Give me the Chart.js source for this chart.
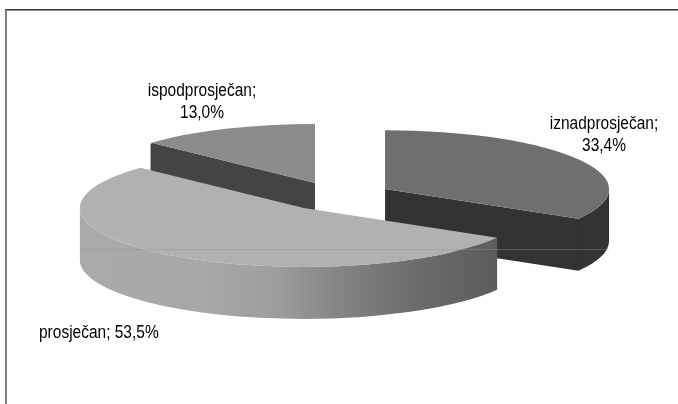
<!DOCTYPE html>
<html>
<head>
<meta charset="utf-8">
<style>
  html, body { margin: 0; padding: 0; background: #fff; overflow: hidden; }
  #wrap { position: relative; width: 678px; height: 404px; }
  #frame { position: absolute; left: 5px; top: 9px; right: 0; bottom: 0; border-left: 2px solid #808080; border-top: 1px solid #333; box-shadow: inset 0 1px 0 #999; }
  #chart { position: absolute; left: 0; top: 0; }
</style>
<script src="https://cdn.jsdelivr.net/npm/chart.js@4/dist/chart.umd.min.js"></script>
</head>
<body>
<div id="wrap">
  <div id="frame"></div>
  <canvas id="chart" width="678" height="404"></canvas>
</div>
<script>
const categories = ['iznadprosječan', 'prosječan', 'ispodprosječan'];
const percents = [33.4, 53.5, 13.0];

const topColors = ['#6f6f6f', '#b1b1b1', '#8b8b8b'];
const sideColors = ['#333333', '#a9a9a9', '#444444'];

// pie centre on the page, tilt and extrusion
const pieX = 337;
const pieY = 196.3;
const tilt = 0.263;
const depth = 52;
const radius = 224;
const explode = 55.4;

// back slice first so the front one covers it
const drawOrder = [2, 0, 1];

const sliceCentre = (arc) => {
  const mid = (arc.startAngle + arc.endAngle) / 2;
  return {
    x: pieX + Math.cos(mid) * explode,
    y: pieY + Math.sin(mid) * explode * tilt
  };
};

const rimPoint = (c, angle) => ({
  x: c.x + Math.cos(angle) * radius,
  y: c.y + Math.sin(angle) * radius * tilt
});

// wall under the rim, only the part facing the viewer
const drawRim = (ctx, arc, c, fill) => {
  const from = Math.max(arc.startAngle, 0);
  const to = Math.min(arc.endAngle, Math.PI);
  if (to <= from) return;
  ctx.beginPath();
  ctx.ellipse(c.x, c.y, radius, radius * tilt, 0, from, to);
  ctx.ellipse(c.x, c.y + depth, radius, radius * tilt, 0, to, from, true);
  ctx.closePath();
  ctx.fillStyle = fill;
  ctx.fill();
};

// flat cut face from the slice centre out to the rim
const drawCut = (ctx, c, angle, fill) => {
  const p = rimPoint(c, angle);
  ctx.beginPath();
  ctx.moveTo(c.x, c.y);
  ctx.lineTo(p.x, p.y);
  ctx.lineTo(p.x, p.y + depth);
  ctx.lineTo(c.x, c.y + depth);
  ctx.closePath();
  ctx.fillStyle = fill;
  ctx.strokeStyle = fill;
  ctx.lineWidth = 2;
  ctx.fill();
  // hides the seam against the rim wall
  ctx.beginPath();
  ctx.moveTo(p.x, p.y + 1);
  ctx.lineTo(p.x, p.y + depth - 1);
  ctx.stroke();
};

// Arial-like text, a bit narrower than the font gives
const label = (ctx, text, x, y) => {
  ctx.save();
  ctx.translate(x, y);
  ctx.scale(0.885, 1);
  ctx.fillText(text, 0, 0);
  ctx.restore();
};

const pie3d = {
  id: 'pie3d',
  beforeDatasetDraw(chart) {
    const ctx = chart.ctx;
    const arcs = chart.getDatasetMeta(0).data;
    drawOrder.forEach((i) => {
      const arc = arcs[i];
      const c = sliceCentre(arc);
      let fill = sideColors[i];
      if (i === 1) {
        // the big slice gets the shaded front wall
        fill = ctx.createLinearGradient(c.x - radius, 0, c.x + radius * 0.866, 0);
        fill.addColorStop(0, '#aaaaaa');
        fill.addColorStop(0.29, '#a8a8a8');
        fill.addColorStop(0.48, '#9c9c9c');
        fill.addColorStop(0.62, '#848484');
        fill.addColorStop(0.82, '#6a6a6a');
        fill.addColorStop(1, '#5c5c5c');
      }
      drawRim(ctx, arc, c, fill);
      if (Math.cos(arc.startAngle) < -0.001) drawCut(ctx, c, arc.startAngle, fill);
      if (Math.cos(arc.endAngle) > 0.001) drawCut(ctx, c, arc.endAngle, fill);

      // top face is the library's own arc, squashed and moved
      ctx.save();
      ctx.translate(c.x, c.y);
      ctx.scale(1, tilt);
      ctx.translate(-arc.x, -arc.y);
      arc.draw(ctx);
      ctx.restore();
    });
    return false;
  },
  afterDatasetsDraw(chart) {
    const ctx = chart.ctx;
    // thin line running across the pie
    ctx.save();
    ctx.strokeStyle = 'rgba(150,150,150,0.4)';
    ctx.lineWidth = 1;
    ctx.beginPath();
    ctx.moveTo(80, 249.5);
    ctx.lineTo(609, 249.5);
    ctx.stroke();

    const pct = percents.map((v) => v.toFixed(1).replace('.', ',') + '%');
    ctx.fillStyle = '#000';
    ctx.font = '17.5px "Liberation Sans", Arial, sans-serif';
    ctx.textBaseline = 'alphabetic';
    ctx.textAlign = 'center';
    label(ctx, categories[2] + ';', 202, 96);
    label(ctx, pct[2], 202, 118);
    label(ctx, categories[0] + ';', 604, 129);
    label(ctx, pct[0], 604, 151);
    ctx.textAlign = 'left';
    label(ctx, categories[1] + '; ' + pct[1], 39, 338);
    ctx.restore();
  }
};

new Chart(document.getElementById('chart'), {
  type: 'pie',
  data: {
    labels: categories,
    datasets: [{
      data: percents,
      backgroundColor: topColors,
      borderWidth: 0
    }]
  },
  options: {
    responsive: false,
    animation: false,
    radius: radius,
    plugins: {
      legend: { display: false },
      tooltip: { enabled: false }
    }
  },
  plugins: [pie3d]
});
</script>
</body>
</html>
